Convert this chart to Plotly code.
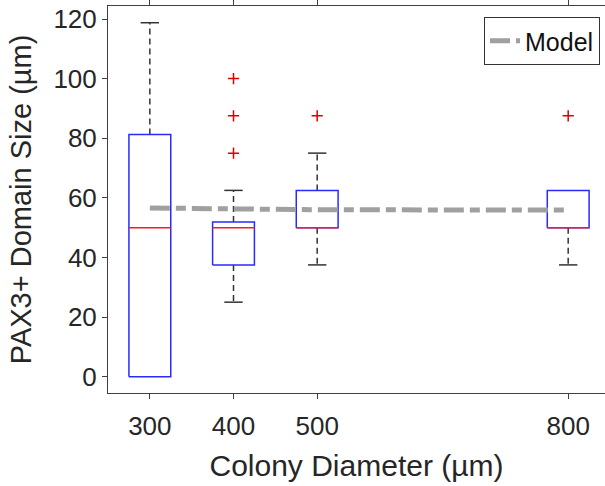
import plotly.graph_objects as go

# ---- data ----
positions = [300, 400, 500, 800]
tick_labels = ["300", "400", "500", "800"]
q1 = [0, 37.5, 50, 50]
medians = [50, 50, 50, 50]
q3 = [81.25, 51.9, 62.5, 62.5]
lower_whisker = [0, 25, 37.5, 37.5]
upper_whisker = [118.75, 62.5, 75, 62.5]
outlier_x = [400, 400, 400, 500, 800]
outlier_y = [75, 87.5, 100, 87.5, 87.5]
model_x = [300, 400, 500, 800]
model_y = [56.6, 56.2, 56.0, 55.9]

# ---- style ----
BOX_HALF = 25
CAP_HALF = 11
FONT = "Liberation Sans, Arial, Helvetica, sans-serif"
TXT = "#262626"

fig = go.Figure()

for p, a, m, b, lw, uw in zip(positions, q1, medians, q3, lower_whisker, upper_whisker):
    # whiskers
    for start, end in ((b, uw), (a, lw)):
        if end != start:
            fig.add_trace(go.Scatter(x=[p, p], y=[start, end], mode="lines",
                                     line=dict(color="#333333", width=1.5, dash="6px,4px"),
                                     showlegend=False, hoverinfo="skip"))
            fig.add_trace(go.Scatter(x=[p - CAP_HALF, p + CAP_HALF], y=[end, end], mode="lines",
                                     line=dict(color="#333333", width=1.5),
                                     showlegend=False, hoverinfo="skip"))
    # box
    fig.add_trace(go.Scatter(x=[p - BOX_HALF, p + BOX_HALF, p + BOX_HALF, p - BOX_HALF, p - BOX_HALF],
                             y=[a, a, b, b, a], mode="lines",
                             line=dict(color="#2a2aff", width=1.5),
                             showlegend=False, hoverinfo="skip"))
    # median
    fig.add_trace(go.Scatter(x=[p - BOX_HALF, p + BOX_HALF], y=[m, m], mode="lines",
                             line=dict(color="#ff1a1a", width=1.5),
                             showlegend=False, hoverinfo="skip"))

# outliers
fig.add_trace(go.Scatter(x=outlier_x, y=outlier_y, mode="markers",
                         marker=dict(symbol="cross-thin", size=8,
                                     line=dict(color="#e00000", width=1.5)),
                         showlegend=False, hoverinfo="skip"))

# model line
fig.add_trace(go.Scatter(x=model_x, y=model_y, mode="lines", name="Model",
                         line=dict(color="#a0a0a0", width=5, dash="20px,6px,10px,6px")))

fig.update_layout(
    width=605, height=486,
    margin=dict(l=108, r=0, t=6, b=93),
    plot_bgcolor="white", paper_bgcolor="white",
    font=dict(family=FONT, size=26, color=TXT),
    legend=dict(x=(484 - 108) / 497, y=(393 - 17) / 387, xanchor="left", yanchor="top",
                bgcolor="white", bordercolor="#333333", borderwidth=1,
                font=dict(size=25, color="#111111"), itemwidth=30,
                tracegroupgap=0),
    showlegend=True,
)
fig.update_xaxes(
    range=[250, 844], tickmode="array", tickvals=positions, ticktext=tick_labels,
    showline=True, linecolor="#404040", linewidth=1, mirror="ticks",
    ticks="outside", ticklen=5, tickcolor="#404040", showgrid=False, zeroline=False,
    ticklabelstandoff=5,
    title=dict(text="Colony Diameter (µm)", font=dict(size=30, color=TXT), standoff=14),
    automargin=False,
)
fig.update_yaxes(
    range=[-5.47, 124.36], tickmode="array", tickvals=[0, 20, 40, 60, 80, 100, 120],
    showline=True, linecolor="#404040", linewidth=1, mirror=False,
    ticks="outside", ticklen=5, tickcolor="#404040", showgrid=False, zeroline=False,
    title=dict(text="PAX3+ Domain Size (µm)", font=dict(size=29, color=TXT), standoff=13),
    automargin=False,
)

fig.write_html(
    "out.html", config={"displayModeBar": False},
    post_script=("document.body.style.margin='0';"
                 "document.body.style.overflow='hidden';"
                 "document.documentElement.style.overflow='hidden';"),
)
